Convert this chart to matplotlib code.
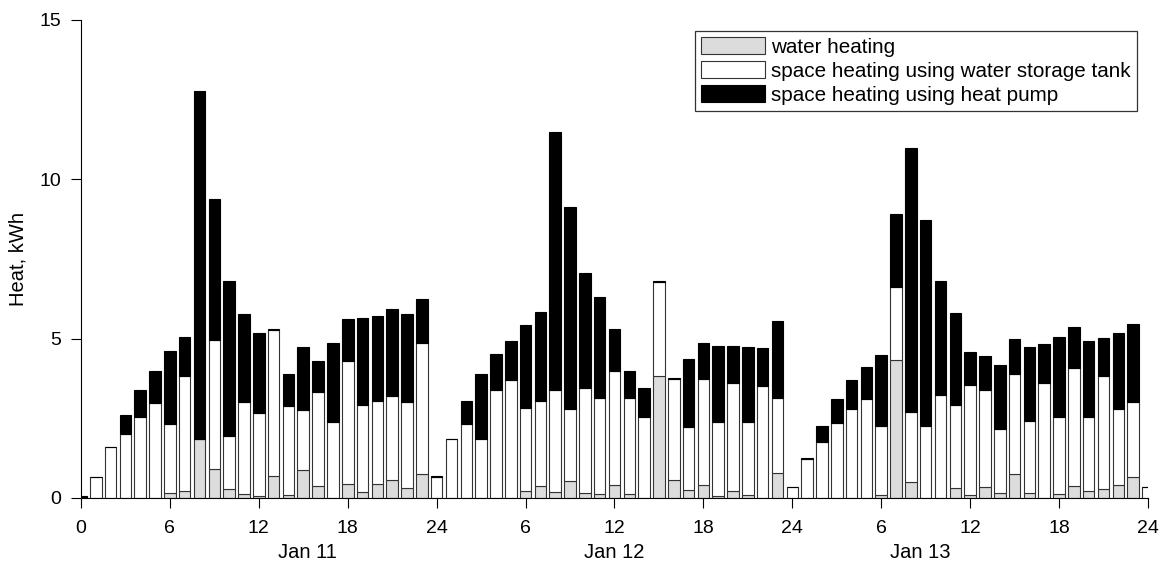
import numpy as np
import matplotlib.pyplot as plt

plt.rcParams['font.family'] = ['Liberation Sans', 'DejaVu Sans']

# hourly heat over three days (hour 0 .. 72), kWh
water_heating = [0, 0, 0, 0, 0, 0, 0.16, 0.23, 1.84, 0.91, 0.29, 0.13, 0.07, 0.70, 0.09, 0.89,
                 0.37, 0, 0.44, 0.20, 0.44, 0.56, 0.31, 0.74,
                 0, 0, 0, 0, 0, 0, 0.22, 0.39, 0.18, 0.53, 0.16, 0.14, 0.42, 0.12, 0, 3.84,
                 0.55, 0.24, 0.42, 0.06, 0.22, 0.08, 0, 0.77,
                 0, 0, 0, 0, 0, 0, 0.09, 4.32, 0.50, 0, 0, 0.31, 0.09, 0.35, 0.16, 0.74,
                 0.16, 0, 0.12, 0.37, 0.22, 0.29, 0.41, 0.66,
                 0]
storage_tank = [0, 0.65, 1.59, 2.00, 2.55, 2.99, 2.15, 3.61, 0, 4.04, 1.67, 2.87, 2.59, 4.57, 2.81, 1.88,
                2.95, 2.37, 3.87, 2.72, 2.61, 2.65, 2.69, 4.11,
                0.66, 1.84, 2.32, 1.85, 3.40, 3.69, 2.60, 2.66, 3.21, 2.26, 3.29, 2.99, 3.58, 3.01, 2.53, 2.93,
                3.17, 2.00, 3.32, 2.31, 3.40, 2.30, 3.50, 2.37,
                0.33, 1.21, 1.75, 2.35, 2.78, 3.10, 2.16, 2.29, 2.21, 2.27, 3.24, 2.62, 3.47, 3.03, 1.99, 3.15,
                2.25, 3.60, 2.43, 3.70, 2.31, 3.53, 2.37, 2.36,
                0.33]
heat_pump = [0.07, 0.02, 0.02, 0.61, 0.83, 1.00, 2.29, 1.22, 10.93, 4.44, 4.86, 2.77, 2.52, 0.03, 0.99, 1.98,
             0.99, 2.49, 1.31, 2.72, 2.67, 2.72, 2.76, 1.39,
             0.03, 0.02, 0.73, 2.05, 1.12, 1.25, 2.60, 2.78, 8.08, 6.35, 3.60, 3.19, 1.29, 0.87, 0.92, 0.03,
             0.03, 2.12, 1.12, 2.41, 1.16, 2.35, 1.20, 2.40,
             0.03, 0.03, 0.51, 0.77, 0.93, 1.02, 2.24, 2.31, 8.26, 6.44, 3.58, 2.88, 1.02, 1.07, 2.01, 1.10,
             2.34, 1.22, 2.49, 1.28, 2.39, 1.21, 2.41, 2.45,
             0.02]

tick_labels = ['0', '6', '12', '18', '24', '6', '12', '18', '24', '6', '12', '18', '24']
day_labels = ['Jan 11', 'Jan 12', 'Jan 13']
day_label_pos = [15.3, 36.0, 56.6]

hours = np.arange(len(water_heating))
water = np.array(water_heating)
tank = np.array(storage_tank)
pump = np.array(heat_pump)

fig = plt.figure(figsize=(11.65, 5.63), dpi=100)
ax = fig.add_axes([0.0695, 0.1155, 0.9159, 0.849])

w = 0.78
ax.bar(hours, water, w, color='#dcdcdc', edgecolor='#333333', linewidth=0.8,
       label='water heating')
ax.bar(hours, tank, w, bottom=water, color='white', edgecolor='#333333', linewidth=0.8,
       label='space heating using water storage tank')
ax.bar(hours, pump, w, bottom=water + tank, color='black', edgecolor='black', linewidth=0.8,
       label='space heating using heat pump')

ax.set_xlim(0, 72)
ax.set_ylim(0, 15)
ax.set_xticks(np.arange(0, 73, 6))
ax.set_xticklabels(tick_labels)
ax.set_yticks([0, 5, 10, 15])
ax.tick_params(direction='out', length=7, width=0.8, labelsize=14, pad=7)
ax.tick_params(axis='x', pad=9)
ax.spines['top'].set_visible(False)
ax.spines['right'].set_visible(False)

for lab, pos in zip(day_labels, day_label_pos):
    ax.text(pos, -1.7, lab, ha='center', va='center', fontsize=14.5)

ax.set_ylabel('Heat, kWh', fontsize=14.5)
ax.yaxis.set_label_coords(-0.0497, 0.5)

leg = ax.legend(loc='upper right', bbox_to_anchor=(0.9897, 0.977), fontsize=14.9,
                frameon=True, fancybox=False, handlelength=3.1, handleheight=0.9,
                labelspacing=0.2, handletextpad=0.29, borderpad=0.3, borderaxespad=0)
leg.get_frame().set_edgecolor('black')
leg.get_frame().set_linewidth(0.9)

fig.savefig('out.png', dpi=100)
